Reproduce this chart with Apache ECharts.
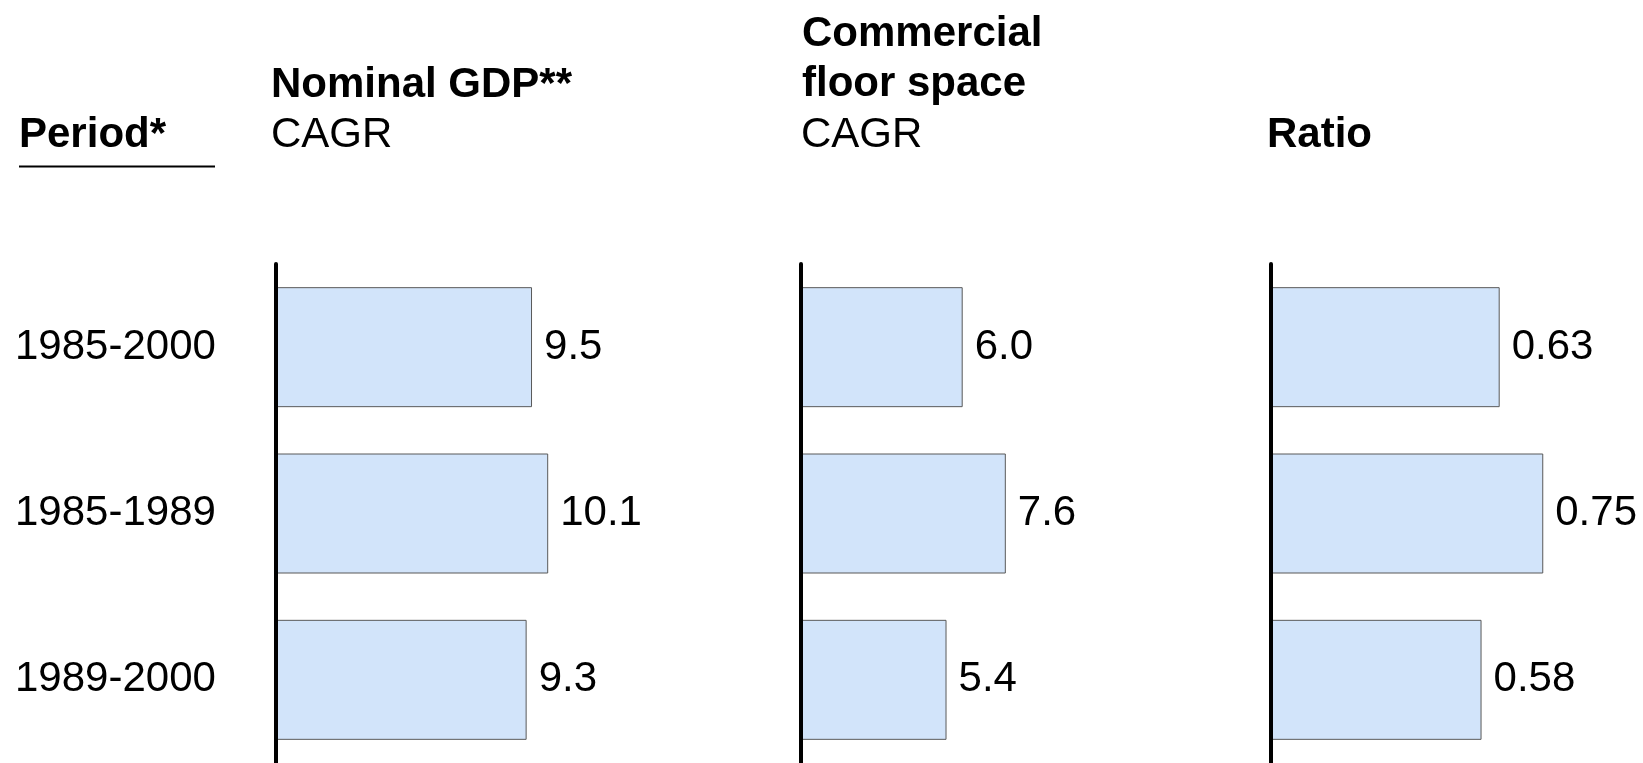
<!DOCTYPE html>
<html>
<head>
<meta charset="utf-8">
<script src="https://cdn.jsdelivr.net/npm/echarts@6/dist/echarts.min.js"></script>
<style>
  html, body { margin: 0; padding: 0; background: #ffffff; }
  #chart { width: 1643px; height: 763px; }
</style>
</head>
<body>
<div id="chart"></div>
<script>
// Periods shown as rows, top to bottom
const periods = ['1985-2000', '1985-1989', '1989-2000'];

// Compound annual growth rates, %
const gdpCagr = [9.5, 10.1, 9.3];
const floorSpaceCagr = [6.0, 7.6, 5.4];

// Floor-space growth relative to GDP growth
const ratio = [0.63, 0.75, 0.58];

const FONT = '"Liberation Sans", Arial, Helvetica, sans-serif';
const BAR_FILL = '#D2E4FA';
const BAR_EDGE = '#595959';

const chart = echarts.init(document.getElementById('chart'), null, { renderer: 'canvas' });

const gridTop = 264;
const gridHeight = 503.5;

function grid(left, width) {
  return { left: left, top: gridTop, width: width, height: gridHeight, containLabel: false };
}

function valueAxis(idx, max) {
  return {
    type: 'value', gridIndex: idx, min: 0, max: max,
    show: false, splitLine: { show: false }
  };
}

// Category axis line sits above the bars so its full width stays visible
function categoryAxis(idx, showLabels) {
  return {
    type: 'category', gridIndex: idx, data: periods, inverse: true, z: 3,
    axisLine: { show: true, onZero: false, lineStyle: { color: '#000000', width: 4 } },
    axisTick: { show: false },
    axisLabel: {
      show: showLabels, align: 'left', margin: 261,
      fontFamily: FONT, fontSize: 42, color: '#000000'
    }
  };
}

function barSeries(idx, values, digits) {
  return {
    type: 'bar', xAxisIndex: idx, yAxisIndex: idx, data: values,
    barWidth: 120, silent: true,
    itemStyle: { color: BAR_FILL, borderColor: BAR_EDGE, borderWidth: 1 },
    label: {
      show: true, position: 'right', distance: 12,
      fontFamily: FONT, fontSize: 42, color: '#000000',
      formatter: p => p.value.toFixed(digits)
    }
  };
}

function headerText(x, y, text, bold) {
  return {
    type: 'text', x: x, y: y, silent: true,
    style: {
      text: text, fill: '#000000',
      font: (bold ? 'bold ' : '') + '42px ' + FONT,
      textAlign: 'left', textVerticalAlign: 'middle'
    }
  };
}

chart.setOption({
  animation: false,
  backgroundColor: '#ffffff',
  grid: [grid(276, 539), grid(801, 539), grid(1271, 363)],
  xAxis: [valueAxis(0, 20), valueAxis(1, 20), valueAxis(2, 1)],
  yAxis: [categoryAxis(0, true), categoryAxis(1, false), categoryAxis(2, false)],
  series: [
    barSeries(0, gdpCagr, 1),
    barSeries(1, floorSpaceCagr, 1),
    barSeries(2, ratio, 2)
  ],
  graphic: [
    headerText(19, 135, 'Period*', true),
    { type: 'line', silent: true,
      shape: { x1: 19, y1: 166.5, x2: 215, y2: 166.5 },
      style: { stroke: '#000000', lineWidth: 2 } },
    headerText(271, 85, 'Nominal GDP**', true),
    headerText(271, 135, 'CAGR', false),
    headerText(802, 34, 'Commercial', true),
    headerText(802, 84, 'floor space', true),
    headerText(801, 135, 'CAGR', false),
    headerText(1267, 135, 'Ratio', true)
  ]
});
</script>
</body>
</html>
